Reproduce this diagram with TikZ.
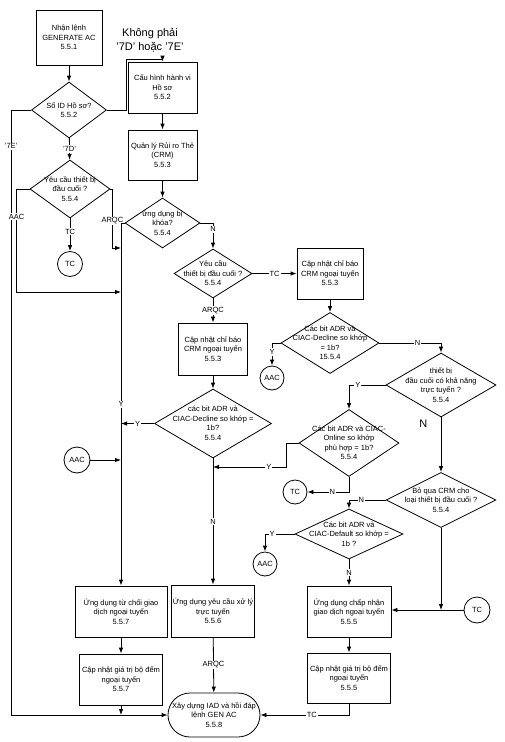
\documentclass[tikz,border=0pt]{standalone}
\usepackage{fontspec}
\setmainfont{Liberation Sans}
\usetikzlibrary{arrows.meta,shapes.geometric,shapes.misc}
\begin{document}
\begin{tikzpicture}
  [x=1pt, y=-1pt, line width=0.8pt,
   every node/.style={font=\fontsize{7.5}{9.5}\selectfont},
   every label/.style={align=center},
   >={Latex[length=6pt,width=4.5pt]},
   box/.style={draw, align=center, inner sep=1pt},
   dia/.style={draw, diamond, inner sep=0pt},
   circ/.style={draw, circle, minimum size=25pt, inner sep=0pt},
   term/.style={draw, rounded rectangle, align=center, inner sep=1pt},
   lab/.style={fill=white, inner sep=1pt},
   big/.style={font=\fontsize{11}{14}\selectfont, align=center}]
  \useasboundingbox (0,0) rectangle (504,742);
  \node[box, minimum width=66, minimum height=55] (n551) at (69,37.5) {Nhận lệnh\\GENERATE AC\\5.5.1};
  \node[dia, minimum width=75, minimum height=56, label=center:{Số ID Hồ sơ?\\5.5.2}] (dID) at (69,110) {};
  \node[big] (note) at (150,40) {Không phải\\'7D' hoặc '7E'};
  \node[box, minimum width=69, minimum height=51] (n552) at (162.5,87.5) {Cấu hình hành vi\\Hồ sơ\\5.5.2};
  \node[box, minimum width=69, minimum height=50] (n553) at (162.5,155) {Quản lý Rủi ro Thẻ\\(CRM)\\5.5.3};
  \node[dia, minimum width=80, minimum height=58, label=center:{Yêu cầu thiết bị\\đầu cuối ?\\5.5.4}] (dReq1) at (70,189) {};
  \node[circ] (tc1) at (70,264) {TC};
  \node[dia, minimum width=75, minimum height=50, label=center:{ứng dụng bị\\khóa?\\5.5.4}] (dLock) at (162.5,223) {};
  \node[dia, minimum width=78, minimum height=49, label=center:{Yêu cầu\\thiết bị đầu cuối ?\\5.5.4}] (dReq2) at (213,273.5) {};
  \node[box, minimum width=66, minimum height=51] (crmR) at (330,273.5) {Cập nhật chỉ báo\\CRM ngoại tuyến\\5.5.3};
  \node[box, minimum width=69, minimum height=52] (crmL) at (213,349) {Cập nhật chỉ báo\\CRM ngoại tuyến\\5.5.3};
  \node[dia, minimum width=98, minimum height=61, label=center:{Các bit ADR và\\CIAC-Decline so khớp\\= 1b?\\15.5.4}] (dDecR) at (330,343) {};
  \node[circ, minimum size=24pt] (aacR) at (272,378) {AAC};
  \node[dia, minimum width=110, minimum height=64, label=center:{thiết bị\\đầu cuối có khả năng\\trực tuyến ?\\5.5.4}] (dOnl) at (441,385) {};
  \node[dia, minimum width=100, minimum height=67, label=center:{Các bit ADR và CIAC-\\Online so khớp\\phù hợp = 1b?\\5.5.4}] (dOnline) at (349,443) {};
  \node[dia, minimum width=117, minimum height=69, label=center:{các bit ADR và\\CIAC-Decline so khớp =\\1b?\\5.5.4}] (dDecL) at (213,423.5) {};
  \node[circ, minimum size=26pt] (aacL) at (77,460) {AAC};
  \node[circ, minimum size=24pt] (tcO) at (295,492) {TC};
  \node[dia, minimum width=110, minimum height=55, label=center:{Bỏ qua CRM cho\\loại thiết bị đầu cuối ?\\5.5.4}] (dSkip) at (441,500) {};
  \node[dia, minimum width=108, minimum height=50, label=center:{Các bit ADR và\\CIAC-Default so khớp =\\1b ?}] (dDef) at (349,534) {};
  \node[circ, minimum size=24pt] (aacD) at (265,564) {AAC};
  \node[box, minimum width=92, minimum height=51] (n557a) at (121,611.5) {Ứng dụng từ chối giao\\dịch ngoại tuyến\\5.5.7};
  \node[box, minimum width=83, minimum height=52] (n556) at (213,611) {Ứng dụng yêu cầu xử lý\\trực tuyến\\5.5.6};
  \node[box, minimum width=84, minimum height=51] (n555a) at (349,611.5) {Ứng dụng chấp nhận\\giao dịch ngoại tuyến\\5.5.5};
  \node[circ, minimum size=26pt] (tcR) at (477,610) {TC};
  \node[box, minimum width=83, minimum height=51] (n557b) at (121,679.5) {Cập nhật giá trị bộ đếm\\ngoại tuyến\\5.5.7};
  \node[box, minimum width=83, minimum height=50] (n555b) at (349,678) {Cập nhật giá trị bộ đếm\\ngoại tuyến\\5.5.5};
  \node[term, minimum width=94, minimum height=44] (term) at (214,715) {Xây dựng IAD và hồi đáp\\lệnh GEN AC\\5.5.8};
  \coordinate (s1) at (121,248);
  \coordinate (s2) at (121,292);
  \coordinate (jY) at (213,467);
  \draw[->] (n551) -- (dID);
  \draw[->] (dID.east) -| (126,59) -| (n552.north);
  \draw[->] (n552) -- (n553);
  \draw[->] (n553) -- (dLock);
  \draw[->] (dLock.east) -| (dReq2.north) node[lab, pos=0.62] {N};
  \draw[->] (dReq2) -- (crmL) node[lab, midway] {ARQC};
  \draw[->] (dReq2.east) -- (crmR.west) node[lab, midway] {TC};
  \draw[->] (crmR) -- (dDecR);
  \draw[->] (dDecR.west) -| (aacR.north) node[lab, pos=0.7] {Y};
  \draw[->] (dDecR.east) -| (dOnl.north) node[lab, pos=0.31] {N};
  \draw[->] (dOnl.west) -| (dOnline.north) node[lab, pos=0.38] {Y};
  \draw[->] (dOnl) -- (dSkip) node[big, pos=0.12, left=10pt] {N};
  \draw[->] (dOnline.west) -- ++(-12,0) |- (jY) node[lab, pos=0.62] {Y};
  \draw[->] (dOnline.south) |- (tcO.east) node[lab, pos=0.7] {N};
  \draw[->] (dSkip.west) -| (dDef.north) node[lab, pos=0.33] {N};
  \draw[->] (dDef.west) -| (aacD.north) node[lab, pos=0.38] {Y};
  \draw[->] (dDef) -- (n555a) node[lab, midway] {N};
  \draw[->] (dSkip.south) -- (dSkip.south |- tcR);
  \draw[->] (tcR.west) -- (tcR -| n555a.east);
  \draw[->] (n555a) -- (n555b);
  \draw[->] (n555b.south) |- (term.east) node[lab, pos=0.71] {TC};
  \draw[->] (dID.west) -- ++(-20,0) |- (term.west) node[lab, pos=0.03] {'7E'};
  \draw[->] (dID) -- (dReq1) node[lab, midway] {'7D'};
  \draw[->] (dReq1) -- (tc1) node[lab, pos=0.4] {TC};
  \draw[->] (dReq1.west) -- ++(-13,0) |- (s2) node[lab, pos=0.135] {AAC};
  \draw[->] (dReq1.east) -- ++(2,0) |- (s1) node[lab, pos=0.27] {ARQC};
  \draw[->] (dLock.west) -| (n557a.north) node[lab, pos=0.75] {Y};
  \draw[->] (dDecL.west) -- (dDecL.west -| n557a.north) node[lab, midway] {Y};
  \draw[->] (aacL) -- (aacL -| n557a.north);
  \draw[->] (crmL) -- (dDecL);
  \draw[->] (dDecL) -- (n556) node[lab, midway] {N};
  \draw[->] (n556) -- (term) node[lab, midway] {ARQC};
  \draw[->] (n557a) -- (n557b);
  \draw[->] (n557b.south) -- (n557b.south |- term.west);
\end{tikzpicture}
\end{document}
